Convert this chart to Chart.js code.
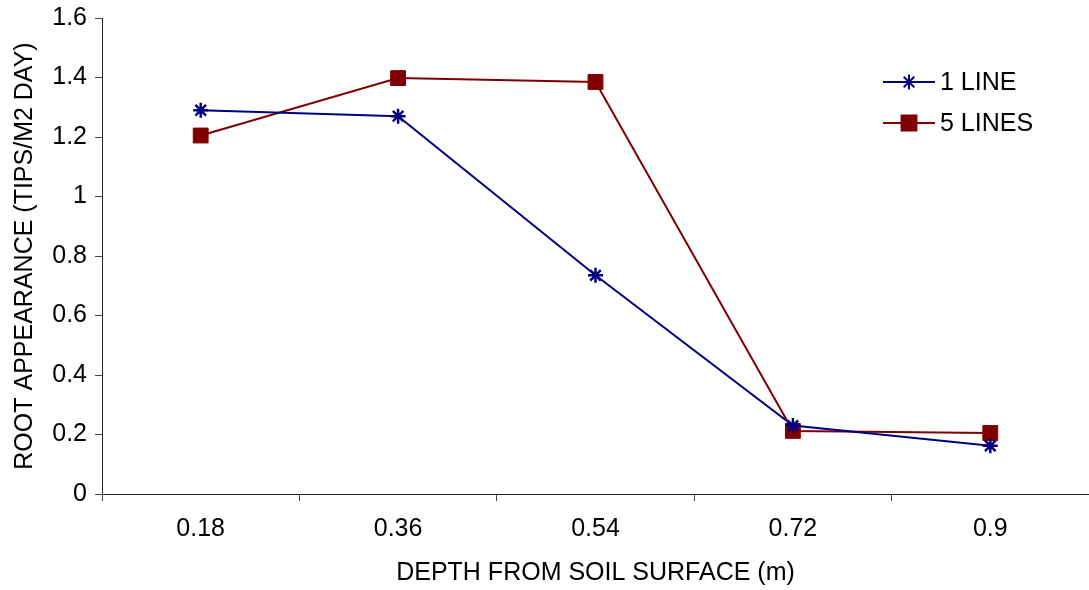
<!DOCTYPE html>
<html>
<head>
<meta charset="utf-8">
<script src="https://cdn.jsdelivr.net/npm/chart.js@4"></script>
<style>
  html, body { margin: 0; padding: 0; background: white; }
  #wrap { width: 1089px; height: 590px; }
</style>
</head>
<body>
<div id="wrap"><canvas id="grafico"></canvas></div>
<script>
const depths = ['0.18', '0.36', '0.54', '0.72', '0.9'];
const oneLine = [1.29, 1.27, 0.735, 0.23, 0.162];
const fiveLines = [1.205, 1.398, 1.385, 0.212, 0.205];
const seriesNames = ['1 LINE', '5 LINES'];

Chart.defaults.font.family = "'Liberation Sans', Arial, sans-serif";
Chart.defaults.font.size = 25;
Chart.defaults.color = 'black';

// legend drawn inside the plot, top right
const innerLegend = {
  id: 'innerLegend',
  afterDraw(chart) {
    const c = chart.ctx;
    c.save();
    chart.data.datasets.forEach((ds, i) => {
      const y = 82 + i * 41;
      c.strokeStyle = ds.borderColor;
      c.lineWidth = 2;
      c.beginPath();
      c.moveTo(883, y);
      c.lineTo(935, y);
      c.stroke();
      c.fillStyle = ds.backgroundColor;
      Chart.helpers.drawPoint(c, {
        pointStyle: ds.pointStyle,
        radius: ds.pointRadius,
        borderWidth: ds.pointBorderWidth,
        rotation: 0
      }, 909, y);
      c.fillStyle = 'black';
      c.font = "25px 'Liberation Sans', Arial, sans-serif";
      c.textBaseline = 'middle';
      c.textAlign = 'left';
      c.fillText(ds.label, 940, y + 1);
    });
    c.restore();
  }
};

let ctx = document.getElementById('grafico');

const chart = new Chart(ctx, {
  type: 'line',
  data: {
    labels: depths,
    datasets: [{
      label: seriesNames[0],
      data: oneLine,
      borderColor: '#000080',
      backgroundColor: '#000080',
      borderWidth: 2,
      pointStyle: 'star',
      pointRadius: 7.5,
      pointBorderWidth: 2.5,
      pointBorderColor: '#000080',
      tension: 0
    }, {
      label: seriesNames[1],
      data: fiveLines,
      borderColor: '#800000',
      backgroundColor: '#800000',
      borderWidth: 2,
      pointStyle: 'rect',
      pointRadius: 10.5,
      pointBorderWidth: 1,
      pointBorderColor: '#800000',
      tension: 0
    }]
  },
  options: {
    responsive: true,
    maintainAspectRatio: false,
    animation: false,
    layout: { autoPadding: false, padding: { top: 18, right: -4, left: 0, bottom: 0 } },
    plugins: {
      legend: { display: false },
      tooltip: { enabled: false }
    },
    scales: {
      x: {
        offset: true,
        grid: {
          offset: true,
          drawOnChartArea: false,
          tickLength: 7,
          tickColor: '#444'
        },
        border: { color: '#222', width: 1 },
        ticks: { padding: 13 },
        title: {
          display: true,
          text: 'DEPTH FROM SOIL SURFACE (m)',
          padding: { top: 5, bottom: 2 }
        },
        afterFit(s) {
          s.height = 96;
          s.paddingLeft = 0;
          s.paddingRight = 0;
        }
      },
      y: {
        min: 0,
        max: 1.6,
        ticks: {
          stepSize: 0.2,
          padding: 8,
          callback: v => String(Math.round(v * 10) / 10)
        },
        grid: {
          drawOnChartArea: false,
          tickLength: 7,
          tickColor: '#444'
        },
        border: { color: '#222', width: 1 },
        title: {
          display: true,
          text: 'ROOT APPEARANCE (TIPS/M2 DAY)',
          padding: { top: 10, bottom: 4 }
        },
        afterFit(s) {
          s.width = 102;
          s.paddingTop = 0;
          s.paddingBottom = 0;
        }
      }
    }
  },
  plugins: [innerLegend]
});
</script>
</body>
</html>
